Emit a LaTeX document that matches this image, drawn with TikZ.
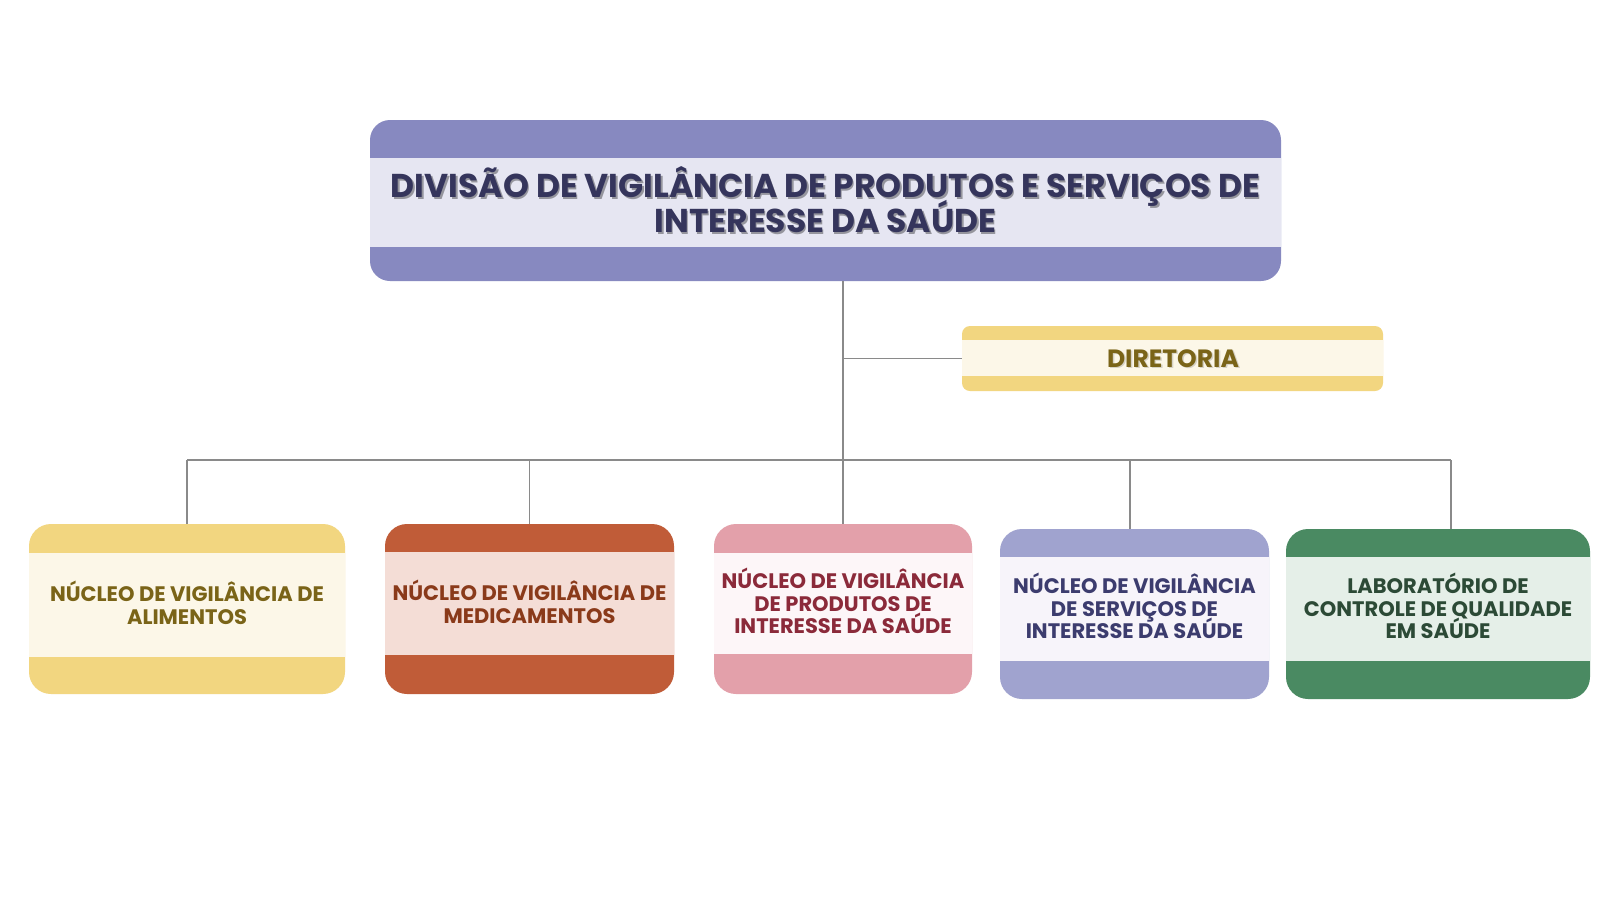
\documentclass[tikz,border=0pt]{standalone}
\usepackage{fontspec}
\setmainfont{Poppins}
\definecolor{linegray}{HTML}{8A8A8A}
\definecolor{purband}{HTML}{8789C0}
\definecolor{purlight}{HTML}{E6E6F2}
\definecolor{purtext}{HTML}{35355C}
\definecolor{yelband}{HTML}{F2D680}
\definecolor{yellight}{HTML}{FCF7E8}
\definecolor{yeltext}{HTML}{7A6418}
\definecolor{rusband}{HTML}{C05C38}
\definecolor{ruslight}{HTML}{F4DDD6}
\definecolor{rustext}{HTML}{8A3A1A}
\definecolor{pinkband}{HTML}{E3A0AA}
\definecolor{pinklight}{HTML}{FDF6F8}
\definecolor{pinktext}{HTML}{8B2A3A}
\definecolor{lavband}{HTML}{A0A3CF}
\definecolor{lavlight}{HTML}{F7F4FA}
\definecolor{lavtext}{HTML}{3C3C6E}
\definecolor{grnband}{HTML}{4A8A62}
\definecolor{grnlight}{HTML}{E5EFE8}
\definecolor{grntext}{HTML}{2C4A36}
\begin{document}
\lineskiplimit=-100pt\relax
\begin{tikzpicture}[x=1pt,y=-1pt,
  lnk/.style={draw=linegray, line width=1.3pt},
  shell/.style={rounded corners=22pt, inner sep=0pt, draw=none},
  lbl/.style={align=center, inner sep=0pt, font=\fontsize{21}{22.8}\selectfont\bfseries},
  dlbl/.style={align=center, inner sep=0pt, font=\fontsize{25}{28}\selectfont\bfseries},
  ttl/.style={align=center, inner sep=0pt, font=\fontsize{33}{35}\selectfont\bfseries}]
\useasboundingbox[fill=white] (0,0) rectangle (1600,900);

% title box
\node[shell, rounded corners=20pt, fill=purband, minimum width=911pt, minimum height=161pt] (top) at (825.5,200.5) {};
\fill[purlight] (370,158) rectangle (1281,247);
\node[ttl, text=black, opacity=0.35] at (827,201.5) {DIVISÃO DE VIGILÂNCIA DE PRODUTOS E SERVIÇOS DE\\INTERESSE DA SAÚDE};
\node[ttl, text=purtext] (toptext) at (825.5,200) {DIVISÃO DE VIGILÂNCIA DE PRODUTOS E SERVIÇOS DE\\INTERESSE DA SAÚDE};

% diretoria
\node[shell, rounded corners=8pt, fill=yelband, minimum width=421pt, minimum height=65pt] (dir) at (1172.5,358.5) {};
\fill[yellight] (962,340) rectangle (1383,376);
\node[dlbl, text=black, opacity=0.15] at (1174.5,360) {DIRETORIA};
\node[dlbl, text=yeltext] (dirtext) at (1173,358.5) {DIRETORIA};

% bottom boxes
\node[shell, fill=yelband, minimum width=316pt, minimum height=170pt] (n1) at (187,609) {};
\fill[yellight] (29,553) rectangle (345,657);
\node[lbl, text=yeltext] (t1) at (187,602.5) {NÚCLEO DE VIGILÂNCIA DE\\ALIMENTOS};

\node[shell, fill=rusband, minimum width=289pt, minimum height=170pt] (n2) at (529.5,609) {};
\fill[ruslight] (385,552) rectangle (674,655);
\node[lbl, text=rustext] (t2) at (529.5,601.5) {NÚCLEO DE VIGILÂNCIA DE\\MEDICAMENTOS};

\node[shell, fill=pinkband, minimum width=258pt, minimum height=170pt] (n3) at (843,609) {};
\fill[pinklight] (714,553) rectangle (972,654);
\node[lbl, text=pinktext] (t3) at (843,601) {NÚCLEO DE VIGILÂNCIA\\DE PRODUTOS DE\\INTERESSE DA SAÚDE};

\node[shell, fill=lavband, minimum width=269pt, minimum height=170pt] (n4) at (1134.5,614) {};
\fill[lavlight] (1000,557) rectangle (1269,661);
\node[lbl, text=lavtext] (t4) at (1134.5,606) {NÚCLEO DE VIGILÂNCIA\\DE SERVIÇOS DE\\INTERESSE DA SAÚDE};

\node[shell, fill=grnband, minimum width=304pt, minimum height=170pt] (n5) at (1438,614) {};
\fill[grnlight] (1286,557) rectangle (1590,661);
\node[lbl, text=grntext] (t5) at (1438,606) {LABORATÓRIO DE\\CONTROLE DE QUALIDADE\\EM SAÚDE};

% connectors
\coordinate (busL) at (187,460);
\coordinate (busR) at (1451,460);
\coordinate (b4) at (1130,460);
\draw[lnk] (n3.north |- top.south) -- (n3.north);
\draw[lnk] (n3.north |- dir.west) -- (dir.west);
\draw[lnk] (busL) -- (busR);
\draw[lnk] (busL) -- (n1.north);
\draw[lnk] (n2.north |- busL) -- (n2.north);
\draw[lnk] (b4) -- (b4 |- n4.north);
\draw[lnk] (busR) -- (busR |- n5.north);
\end{tikzpicture}
\end{document}
